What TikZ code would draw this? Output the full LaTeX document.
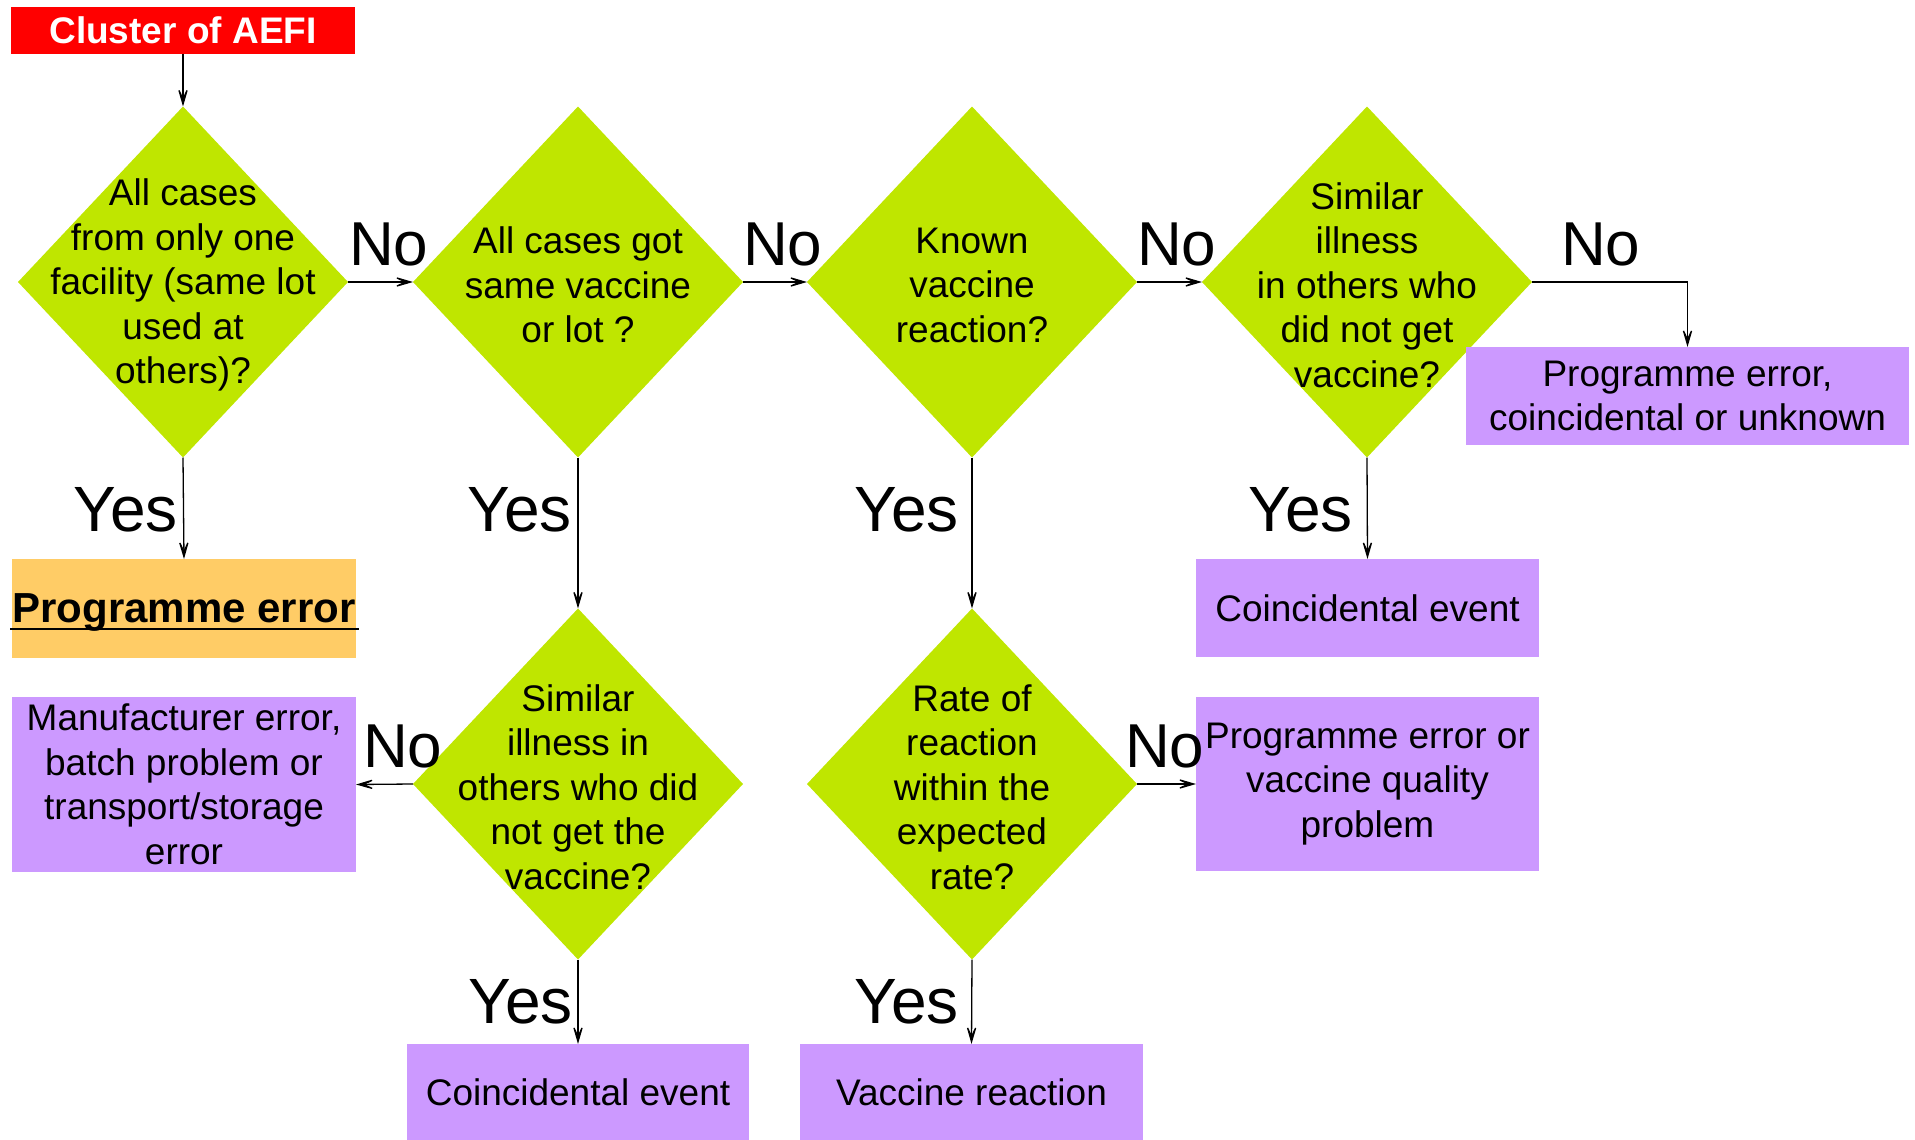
\documentclass[tikz,border=0pt]{standalone}
\usepackage{fontspec}
\setmainfont{Liberation Sans}
\usetikzlibrary{shapes.geometric,arrows.meta}
\definecolor{dgreen}{RGB}{191,230,0}
\definecolor{boxpurple}{RGB}{204,153,255}
\definecolor{boxorange}{RGB}{255,204,102}
\definecolor{boxred}{RGB}{255,0,0}
\begin{document}
\begin{tikzpicture}[x=1pt,y=-1pt,
  dia/.style={diamond,fill=dgreen,minimum width=330pt,minimum height=351pt,inner sep=0pt,outer sep=0pt},
  dtext/.style={align=center,font=\fontsize{37}{44.5}\selectfont,inner sep=0pt,yshift=-3pt},
  box/.style={fill=boxpurple,inner sep=0pt,outer sep=0pt,align=center,font=\fontsize{37}{44.5}\selectfont},
  conn/.style={line width=1.3pt,-{Stealth[length=24pt,width=14pt,inset=15pt]}},
  lbl/.style={font=\fontsize{62}{70}\selectfont,inner sep=0pt},
  ylbl/.style={font=\fontsize{64}{70}\selectfont,inner sep=0pt}]
\useasboundingbox (0,0) rectangle (1915,1140);
% start
\node[fill=boxred,minimum width=344pt,minimum height=47pt,inner sep=0pt,outer sep=0pt,text=white,font=\bfseries\fontsize{37}{40}\selectfont] (start) at (183,30.5) {Cluster of AEFI};
% diamonds
\node[dia] (d1) at (183,282) {};
\node[dia] (d2) at (578,282) {};
\node[dia] (d3) at (972,282) {};
\node[dia] (d4) at (1367,282) {};
\node[dia] (d5) at (578,784) {};
\node[dia] (d6) at (972,784) {};
\node[dtext] (t1) at (d1) {All cases\\from only one\\facility (same lot\\used at\\others)?};
\node[dtext] (t2) at (d2) {All cases got\\same vaccine\\or lot ?};
\node[dtext] (t3) at (d3) {Known\\vaccine\\reaction?};
\node[dtext] (t4) at (d4) {Similar\\illness\\in others who\\did not get\\vaccine?};
\node[dtext] (t5) at (d5) {Similar\\illness in\\others who did\\not get the\\vaccine?};
\node[dtext] (t6) at (d6) {Rate of\\reaction\\within the\\expected\\rate?};
% result boxes
\node[box,fill=boxorange,minimum width=344pt,minimum height=99pt,text depth=0pt,font=\bfseries\fontsize{42}{48}\selectfont] (pe) at (184,608.5) {\rlap{\hspace{-2pt}\rule[-7pt]{349pt}{2pt}}Programme error};
\node[box,minimum width=344pt,minimum height=175pt] (mfr) at (184,784.5) {Manufacturer error,\\batch problem or\\transport/storage\\error};
\node[box,minimum width=343pt,minimum height=98pt] (ce1) at (1367.5,608) {Coincidental event};
\node[box,minimum width=343pt,minimum height=174pt] (pevq) at (1367.5,784) {Programme error or\\vaccine quality\\problem};
\node[box,minimum width=443pt,minimum height=98pt] (pecu) at (1687.5,396) {Programme error,\\coincidental or unknown};
\node[box,minimum width=342pt,minimum height=96pt] (ce2) at (578,1092) {Coincidental event};
\node[box,minimum width=343pt,minimum height=96pt] (vr) at (971.5,1092) {Vaccine reaction};
% connectors
\draw[conn] (start.south) -- (d1.north);
\draw[conn] (d1.east) -- (d2.west);
\draw[conn] (d2.east) -- (d3.west);
\draw[conn] (d3.east) -- (d4.west);
\draw[conn] (d4.east) -| (pecu.north);
\draw[conn] (d1.south) -- (pe.north);
\draw[conn] (d2.south) -- (d5.north);
\draw[conn] (d3.south) -- (d6.north);
\draw[conn] (d4.south) -- (ce1.north);
\draw[conn] (d5.west) -- (mfr.east);
\draw[conn] (d6.east) -- (pevq.west);
\draw[conn] (d5.south) -- (ce2.north);
\draw[conn] (d6.south) -- (vr.north);
% labels
\node[lbl,anchor=base west] (no1) at (349,265) {No};
\node[lbl,anchor=base west] (no2) at (743,265) {No};
\node[lbl,anchor=base west] (no3) at (1137,265) {No};
\node[lbl,anchor=base west] (no4) at (1561,265) {No};
\node[lbl,anchor=base west] (no5) at (363,767) {No};
\node[lbl,anchor=base west] (no6) at (1125,767) {No};
\node[ylbl,anchor=base east] (yes1) at (178,531) {Yes};
\node[ylbl,anchor=base east] (yes2) at (572,531) {Yes};
\node[ylbl,anchor=base east] (yes3) at (959,531) {Yes};
\node[ylbl,anchor=base east] (yes4) at (1353,531) {Yes};
\node[ylbl,anchor=base east] (yes5) at (573,1023) {Yes};
\node[ylbl,anchor=base east] (yes6) at (959,1023) {Yes};
\end{tikzpicture}
\end{document}
